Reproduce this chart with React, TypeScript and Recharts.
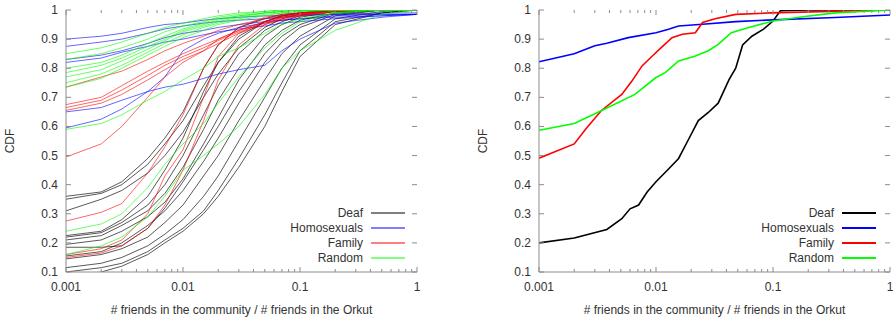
import { LineChart, Line, XAxis, YAxis, Legend } from "recharts";

// shared x grid for the per-community curves (left panel)
const xGrid = [0.001, 0.002, 0.003, 0.005, 0.007, 0.01, 0.015, 0.02, 0.03, 0.05, 0.07, 0.1, 0.2, 0.5, 1];

const deafCurves = [
  [0.36, 0.375, 0.41, 0.49, 0.56, 0.65, 0.8, 0.88, 0.94, 0.97, 0.985, 0.99, 1, 1, 1],
  [0.35, 0.37, 0.4, 0.47, 0.54, 0.62, 0.74, 0.82, 0.9, 0.96, 0.98, 0.99, 1, 1, 1],
  [0.31, 0.35, 0.38, 0.44, 0.5, 0.58, 0.7, 0.78, 0.87, 0.94, 0.97, 0.985, 1, 1, 1],
  [0.225, 0.24, 0.28, 0.36, 0.45, 0.56, 0.72, 0.82, 0.91, 0.96, 0.98, 0.99, 1, 1, 1],
  [0.22, 0.235, 0.27, 0.33, 0.4, 0.5, 0.64, 0.74, 0.85, 0.93, 0.96, 0.98, 1, 1, 1],
  [0.21, 0.225, 0.26, 0.31, 0.37, 0.46, 0.59, 0.69, 0.8, 0.91, 0.95, 0.975, 0.995, 1, 1],
  [0.195, 0.21, 0.24, 0.29, 0.34, 0.42, 0.54, 0.63, 0.76, 0.88, 0.93, 0.965, 0.99, 1, 1],
  [0.185, 0.185, 0.19, 0.25, 0.32, 0.41, 0.52, 0.6, 0.72, 0.85, 0.91, 0.95, 0.99, 1, 1],
  [0.155, 0.17, 0.2, 0.26, 0.31, 0.38, 0.48, 0.56, 0.68, 0.82, 0.89, 0.94, 0.985, 1, 1],
  [0.145, 0.16, 0.18, 0.22, 0.27, 0.33, 0.43, 0.5, 0.62, 0.76, 0.85, 0.91, 0.98, 1, 1],
  [0.115, 0.13, 0.15, 0.19, 0.23, 0.28, 0.36, 0.43, 0.55, 0.7, 0.8, 0.88, 0.97, 0.995, 1],
  [0.1, 0.115, 0.13, 0.17, 0.21, 0.25, 0.31, 0.38, 0.49, 0.64, 0.75, 0.86, 0.96, 0.99, 1],
  [0.08, 0.1, 0.12, 0.16, 0.2, 0.24, 0.3, 0.36, 0.46, 0.6, 0.72, 0.84, 0.95, 0.99, 1],
];

const homoCurves = [
  [0.9, 0.91, 0.92, 0.94, 0.95, 0.955, 0.965, 0.97, 0.975, 0.98, 0.98, 0.985, 0.985, 0.99, 0.99],
  [0.875, 0.89, 0.9, 0.92, 0.935, 0.945, 0.955, 0.96, 0.965, 0.97, 0.975, 0.98, 0.985, 0.985, 0.985],
  [0.83, 0.845, 0.86, 0.885, 0.905, 0.92, 0.93, 0.94, 0.95, 0.96, 0.965, 0.97, 0.975, 0.98, 0.985],
  [0.82, 0.835, 0.855, 0.875, 0.89, 0.9, 0.915, 0.925, 0.935, 0.945, 0.955, 0.96, 0.97, 0.98, 0.985],
  [0.65, 0.665, 0.69, 0.72, 0.735, 0.745, 0.765, 0.78, 0.795, 0.81, 0.86, 0.9, 0.955, 0.975, 0.985],
  [0.595, 0.625, 0.66, 0.72, 0.77, 0.86, 0.9, 0.92, 0.94, 0.955, 0.965, 0.97, 0.98, 0.985, 0.985],
];

const familyCurves = [
  [0.735, 0.77, 0.79, 0.83, 0.86, 0.885, 0.91, 0.93, 0.95, 0.97, 0.98, 0.99, 1, 1, 1],
  [0.675, 0.7, 0.74, 0.79, 0.82, 0.85, 0.88, 0.9, 0.93, 0.96, 0.975, 0.985, 0.995, 1, 1],
  [0.665, 0.69, 0.725, 0.775, 0.81, 0.84, 0.87, 0.895, 0.925, 0.955, 0.97, 0.98, 0.995, 1, 1],
  [0.655, 0.68, 0.71, 0.76, 0.795, 0.83, 0.86, 0.885, 0.92, 0.95, 0.965, 0.98, 0.995, 1, 1],
  [0.495, 0.54, 0.6, 0.7, 0.77, 0.82, 0.86, 0.9, 0.93, 0.96, 0.975, 0.985, 1, 1, 1],
  [0.275, 0.305, 0.335, 0.44, 0.53, 0.64, 0.8, 0.88, 0.94, 0.975, 0.985, 0.99, 1, 1, 1],
  [0.16, 0.18, 0.21, 0.3, 0.43, 0.52, 0.7, 0.84, 0.92, 0.96, 0.98, 0.99, 1, 1, 1],
  [0.15, 0.165, 0.19, 0.25, 0.33, 0.45, 0.62, 0.76, 0.88, 0.95, 0.975, 0.985, 1, 1, 1],
];

const randomCurves = [
  [0.85, 0.87, 0.89, 0.92, 0.94, 0.955, 0.97, 0.98, 0.99, 0.995, 1, 1, 1, 1, 1],
  [0.83, 0.85, 0.87, 0.9, 0.925, 0.945, 0.96, 0.975, 0.985, 0.995, 1, 1, 1, 1, 1],
  [0.8, 0.82, 0.845, 0.885, 0.91, 0.935, 0.955, 0.97, 0.98, 0.99, 0.995, 1, 1, 1, 1],
  [0.785, 0.81, 0.835, 0.875, 0.9, 0.93, 0.95, 0.965, 0.98, 0.99, 0.995, 1, 1, 1, 1],
  [0.77, 0.795, 0.825, 0.865, 0.895, 0.925, 0.945, 0.96, 0.975, 0.99, 0.995, 1, 1, 1, 1],
  [0.75, 0.78, 0.81, 0.855, 0.885, 0.915, 0.94, 0.955, 0.97, 0.985, 0.99, 0.995, 1, 1, 1],
  [0.735, 0.765, 0.8, 0.845, 0.875, 0.905, 0.93, 0.95, 0.965, 0.98, 0.99, 0.995, 1, 1, 1],
  [0.59, 0.61, 0.64, 0.69, 0.72, 0.76, 0.8, 0.84, 0.87, 0.92, 0.95, 0.97, 0.99, 1, 1],
  [0.24, 0.265, 0.3, 0.39, 0.47, 0.54, 0.61, 0.68, 0.77, 0.87, 0.92, 0.96, 0.99, 1, 1],
  [0.16, 0.19, 0.22, 0.29, 0.36, 0.45, 0.5, 0.54, 0.6, 0.71, 0.8, 0.86, 0.93, 0.985, 1],
];

// aggregated curves (right panel)
const deafX = [0.001, 0.002, 0.0038, 0.0051, 0.006, 0.0071, 0.0084, 0.01, 0.0128, 0.0156, 0.019, 0.023, 0.028, 0.034, 0.042, 0.048, 0.055, 0.066, 0.083, 0.1, 0.116, 0.2, 1];
const deafY = [0.2, 0.217, 0.246, 0.283, 0.317, 0.33, 0.375, 0.41, 0.454, 0.49, 0.556, 0.62, 0.648, 0.68, 0.76, 0.8, 0.88, 0.91, 0.934, 0.962, 0.998, 1, 1];
const homoX = [0.001, 0.002, 0.003, 0.0038, 0.0058, 0.01, 0.0128, 0.0156, 0.025, 0.048, 0.1, 0.34, 1];
const homoY = [0.822, 0.85, 0.877, 0.886, 0.905, 0.922, 0.934, 0.945, 0.951, 0.96, 0.966, 0.974, 0.983];
const familyX = [0.001, 0.002, 0.0025, 0.0034, 0.0051, 0.0062, 0.0076, 0.0093, 0.0115, 0.0137, 0.0168, 0.0217, 0.025, 0.032, 0.048, 0.095, 1];
const familyY = [0.491, 0.54, 0.59, 0.654, 0.71, 0.755, 0.808, 0.842, 0.877, 0.905, 0.917, 0.922, 0.957, 0.97, 0.985, 0.99, 1];
const randomX = [0.001, 0.002, 0.0034, 0.0066, 0.01, 0.012, 0.0156, 0.0217, 0.028, 0.034, 0.044, 0.062, 0.1, 0.18, 0.34, 1];
const randomY = [0.587, 0.61, 0.654, 0.71, 0.768, 0.785, 0.825, 0.842, 0.86, 0.882, 0.922, 0.94, 0.962, 0.977, 0.99, 1];

const seriesNames = ["Deaf", "Homosexuals", "Family", "Random"];
const seriesColors = ["#000000", "#0000ff", "#ff0000", "#00ff00"];

const xMajorTicks = [0.001, 0.01, 0.1, 1];
const xTickLabels = ["0.001", "0.01", "0.1", "1"];
const yTicks = [0.1, 0.2, 0.3, 0.4, 0.5, 0.6, 0.7, 0.8, 0.9, 1];
const yTickLabels = ["0.1", "0.2", "0.3", "0.4", "0.5", "0.6", "0.7", "0.8", "0.9", "1"];

const xAllTicks = [
  ...xMajorTicks,
  ...xMajorTicks.slice(0, 3).flatMap((d) => [2, 3, 4, 5, 6, 7, 8, 9].map((m) => m * d)),
].sort((a, b) => a - b);

const FONT = "'Liberation Sans', Arial, Helvetica, sans-serif";
const FRAME = "#8c8c8c";
const TEXT = "#333";
const TOP = 10;
const BOTTOM = 272;
const CH = 321;
const CW = 440;

const toPoints = (xs: number[], ys: number[]) => xs.map((x, i) => ({ x, y: ys[i] }));

function XTick(props: any) {
  const { x, payload } = props;
  const idx = xMajorTicks.indexOf(payload.value);
  const len = idx >= 0 ? 5 : 3;
  return (
    <g>
      <line x1={x} x2={x} y1={BOTTOM} y2={BOTTOM - len} stroke={FRAME} />
      <line x1={x} x2={x} y1={TOP} y2={TOP + len} stroke={FRAME} />
      {idx >= 0 && (
        <text x={x} y={BOTTOM + 19} textAnchor="middle" fontSize={12} fontFamily={FONT} fill={TEXT}>
          {xTickLabels[idx]}
        </text>
      )}
    </g>
  );
}

function YTick(props: any) {
  const { y, payload, left, right } = props;
  const idx = yTicks.indexOf(payload.value);
  return (
    <g>
      <line x1={left} x2={left + 5} y1={y} y2={y} stroke={FRAME} />
      <line x1={right} x2={right - 5} y1={y} y2={y} stroke={FRAME} />
      <text x={left - 8} y={y + 4} textAnchor="end" fontSize={12} fontFamily={FONT} fill={TEXT}>
        {yTickLabels[idx]}
      </text>
    </g>
  );
}

function LegendBox({ lineWidth }: { lineWidth: number }) {
  return (
    <div style={{ fontFamily: FONT, fontSize: 12, color: TEXT }}>
      {seriesNames.map((n, i) => (
        <div key={n} style={{ display: "flex", justifyContent: "flex-end", alignItems: "center", height: 15 }}>
          <span>{n}</span>
          <svg width={34} height={6} style={{ marginLeft: 8 }}>
            <line x1={0} x2={34} y1={3} y2={3} stroke={seriesColors[i]} strokeWidth={lineWidth} />
          </svg>
        </div>
      ))}
    </div>
  );
}

function Panel({
  left,
  plotLeft,
  marginRight,
  children,
  legendLeft,
  legendTop,
  legendLine,
}: {
  left: number;
  plotLeft: number;
  marginRight: number;
  children: any;
  legendLeft: number;
  legendTop: number;
  legendLine: number;
}) {
  const plotRight = CW - marginRight;
  return (
    <div style={{ position: "absolute", left, top: 0 }}>
      <LineChart width={CW} height={CH} margin={{ top: TOP, right: marginRight, bottom: 4, left: 0 }}>
        <XAxis
          dataKey="x"
          type="number"
          scale="log"
          domain={[0.001, 1]}
          ticks={xAllTicks}
          interval={0}
          allowDataOverflow
          height={CH - BOTTOM - 4}
          axisLine={{ stroke: FRAME }}
          tickLine={false}
          tickSize={0}
          tick={(p: any) => <XTick {...p} />}
          label={{
            value: "# friends in the community / # friends in the Orkut",
            position: "insideBottom",
            offset: 3,
            fontSize: 12,
            fontFamily: FONT,
            fill: TEXT,
          }}
        />
        <XAxis xAxisId="top" orientation="top" type="number" scale="log" domain={[0.001, 1]} height={0} tick={false} tickLine={false} axisLine={{ stroke: FRAME }} />
        <YAxis
          type="number"
          domain={[0.1, 1]}
          ticks={yTicks}
          interval={0}
          allowDataOverflow
          width={plotLeft}
          axisLine={{ stroke: FRAME }}
          tickLine={false}
          tickSize={0}
          tick={(p: any) => <YTick {...p} left={plotLeft} right={plotRight} />}
          label={{
            value: "CDF",
            angle: -90,
            position: "insideLeft",
            offset: plotLeft - 56,
            fontSize: 12,
            fontFamily: FONT,
            fill: TEXT,
            style: { textAnchor: "middle" },
          }}
        />
        <YAxis yAxisId="right" orientation="right" type="number" domain={[0.1, 1]} width={0} tick={false} tickLine={false} axisLine={{ stroke: FRAME }} />
        <Legend
          layout="vertical"
          align="center"
          verticalAlign="middle"
          content={() => <LegendBox lineWidth={legendLine} />}
          wrapperStyle={{ position: "absolute", left: legendLeft, top: legendTop, width: 130 }}
        />
        {children}
      </LineChart>
    </div>
  );
}

export default function App() {
  const groups = [deafCurves, homoCurves, familyCurves, randomCurves];
  const rightSeries = [
    toPoints(deafX, deafY),
    toPoints(homoX, homoY),
    toPoints(familyX, familyY),
    toPoints(randomX, randomY),
  ];
  return (
    <div style={{ position: "absolute", left: 0, top: 0, width: 895, height: 321, background: "#fff" }}>
      <Panel left={0} plotLeft={66} marginRight={23} legendLeft={275} legendTop={205} legendLine={1.2}>
        {groups.flatMap((curves, g) =>
          curves.map((c, i) => (
            <Line
              key={`${g}-${i}`}
              data={toPoints(xGrid, c)}
              dataKey="y"
              type="linear"
              stroke={seriesColors[g]}
              strokeWidth={1}
              strokeOpacity={g === 0 ? 0.65 : 0.6}
              dot={false}
              isAnimationActive={false}
            />
          ))
        )}
      </Panel>
      <Panel left={455} plotLeft={84} marginRight={5} legendLeft={291} legendTop={205} legendLine={2}>
        {rightSeries.map((d, i) => (
          <Line
            key={seriesNames[i]}
            data={d}
            dataKey="y"
            name={seriesNames[i]}
            type="linear"
            stroke={seriesColors[i]}
            strokeWidth={1.6}
            dot={false}
            isAnimationActive={false}
          />
        ))}
      </Panel>
    </div>
  );
}
